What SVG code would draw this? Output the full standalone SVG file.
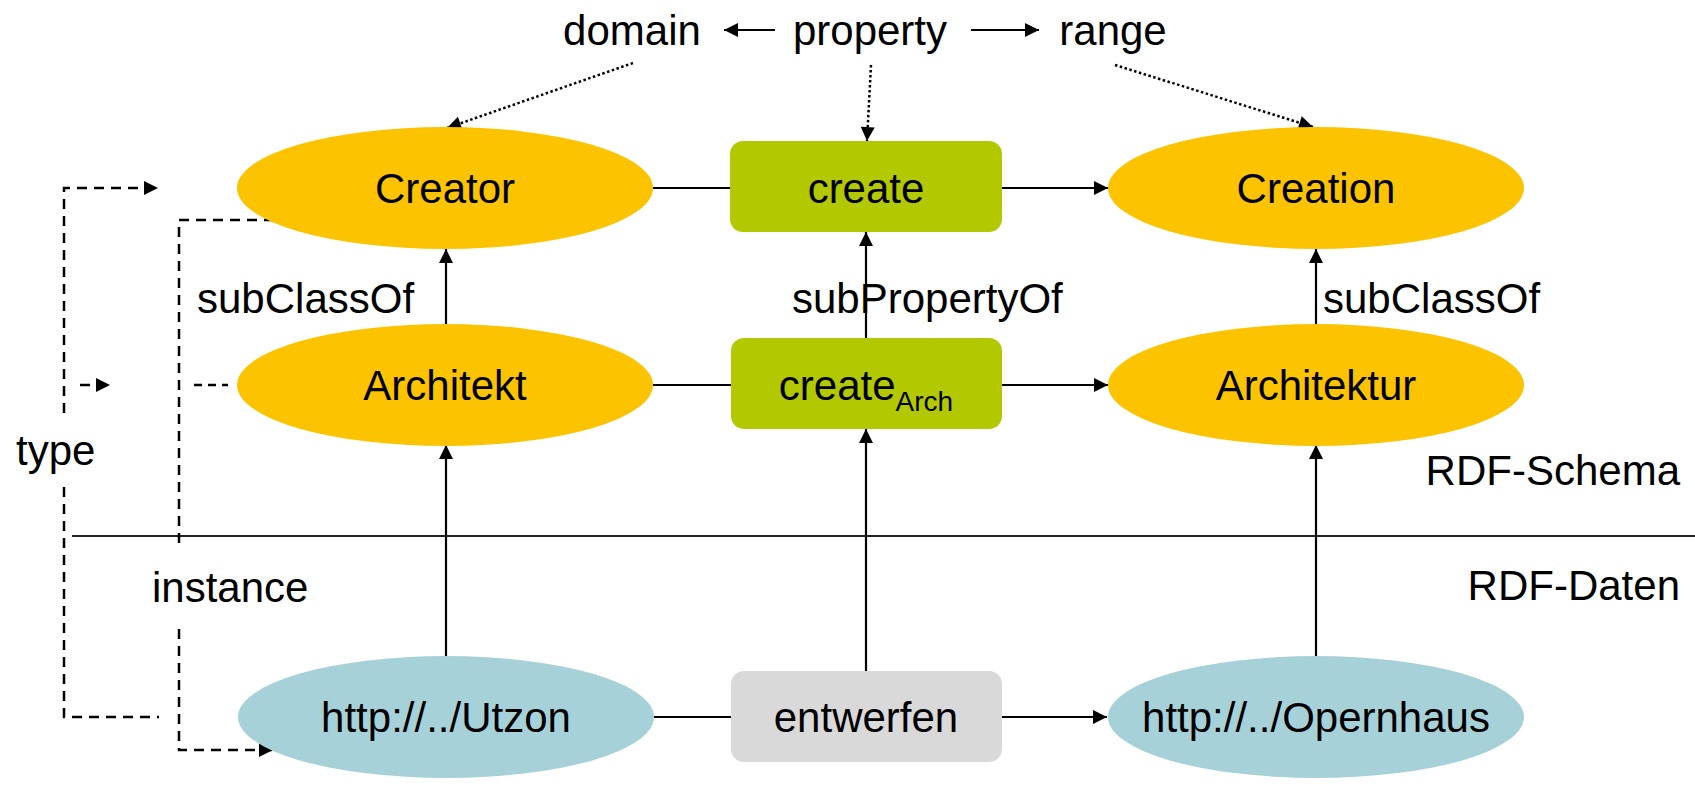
<svg xmlns="http://www.w3.org/2000/svg" width="1695" height="806" viewBox="0 0 1695 806">
<style>
text{font-family:"Liberation Sans",Arial,sans-serif;font-size:42px;fill:#000}
.c{text-anchor:middle}
.cls{fill:#FCC300}
.prop{fill:#B2C800}
.inst{fill:#A7D1D8}
.lit{fill:#D9D9D9}
.ln{stroke:#000;stroke-width:2.2;fill:none}
.dash{stroke:#000;stroke-width:2.5;fill:none;stroke-dasharray:10 7}
.dot{stroke:#000;stroke-width:2.5;fill:none;stroke-dasharray:2.5 2.5}
</style>
<defs>
<marker id="ah" viewBox="0 0 10 10" refX="10" refY="5" markerUnits="userSpaceOnUse" markerWidth="15" markerHeight="14" orient="auto">
<path d="M0,0 L10,5 L0,10 z" fill="#000"/>
</marker>
</defs>

<g id="connectors">
<!-- top legend arrows -->
<line class="ln" x1="775" y1="30" x2="724" y2="30" marker-end="url(#ah)"/>
<line class="ln" x1="971" y1="30" x2="1039" y2="30" marker-end="url(#ah)"/>
<!-- dotted meta arrows -->
<line class="dot" x1="633" y1="63" x2="447" y2="128" marker-end="url(#ah)"/>
<line class="dot" x1="871" y1="65" x2="867" y2="141" marker-end="url(#ah)"/>
<line class="dot" x1="1115" y1="65" x2="1313" y2="127" marker-end="url(#ah)"/>
<!-- horizontal rows -->
<line class="ln" x1="653" y1="188" x2="730" y2="188"/>
<line class="ln" x1="1002" y1="188" x2="1108" y2="188" marker-end="url(#ah)"/>
<line class="ln" x1="653" y1="385" x2="731" y2="385"/>
<line class="ln" x1="1002" y1="385" x2="1108" y2="385" marker-end="url(#ah)"/>
<line class="ln" x1="654" y1="717" x2="731" y2="717"/>
<line class="ln" x1="1002" y1="717" x2="1107" y2="717" marker-end="url(#ah)"/>
<!-- vertical -->
<line class="ln" x1="446" y1="324" x2="446" y2="249" marker-end="url(#ah)"/>
<line class="ln" x1="446" y1="657" x2="446" y2="445" marker-end="url(#ah)"/>
<line class="ln" x1="866" y1="338" x2="866" y2="232" marker-end="url(#ah)"/>
<line class="ln" x1="866" y1="671" x2="866" y2="429" marker-end="url(#ah)"/>
<line class="ln" x1="1316" y1="324" x2="1316" y2="249" marker-end="url(#ah)"/>
<line class="ln" x1="1316" y1="657" x2="1316" y2="445" marker-end="url(#ah)"/>
<!-- separator -->
<line x1="72" y1="536" x2="1695" y2="536" stroke="#222" stroke-width="2"/>
<!-- dashed type / instance -->
<path class="dash" d="M64,413 V188 H158" marker-end="url(#ah)"/>
<path class="dash" d="M64,487 V717 H159"/>
<line class="dash" x1="80" y1="385" x2="110" y2="385" marker-end="url(#ah)"/>
<line class="dash" x1="194" y1="385" x2="228" y2="385" style="stroke-dasharray:8 6"/>
<path class="dash" d="M274,220 H179 V546"/>
<path class="dash" d="M179,629 V750 H273" marker-end="url(#ah)"/>
</g>

<g id="legend">
<text class="c" x="632" y="45">domain</text>
<text class="c" x="870" y="45">property</text>
<text class="c" x="1113" y="45">range</text>
</g>

<g id="creator"><ellipse class="cls" cx="445" cy="188" rx="208" ry="61"/><text class="c" x="445" y="203">Creator</text></g>
<g id="create"><rect class="prop" x="730" y="141" width="272" height="91" rx="13"/><text class="c" x="866" y="203">create</text></g>
<g id="creation"><ellipse class="cls" cx="1316" cy="188" rx="208" ry="61"/><text class="c" x="1316" y="203">Creation</text></g>

<g id="architekt"><ellipse class="cls" cx="445" cy="385" rx="208" ry="61"/><text class="c" x="445" y="400">Architekt</text></g>
<g id="createArch"><rect class="prop" x="731" y="338" width="271" height="91" rx="13"/><text class="c" x="866" y="400">create<tspan dy="11" font-size="28">Arch</tspan></text></g>
<g id="architektur"><ellipse class="cls" cx="1316" cy="385" rx="208" ry="61"/><text class="c" x="1316" y="400">Architektur</text></g>

<g id="utzon"><ellipse class="inst" cx="446" cy="717" rx="208" ry="61"/><text class="c" x="446" y="732">http://../Utzon</text></g>
<g id="entwerfen"><rect class="lit" x="731" y="671" width="271" height="91" rx="13"/><text class="c" x="866" y="732">entwerfen</text></g>
<g id="opernhaus"><ellipse class="inst" cx="1316" cy="717" rx="208" ry="61"/><text class="c" x="1316" y="732">http://../Opernhaus</text></g>

<g id="labels">
<text x="197" y="313">subClassOf</text>
<text x="792" y="313">subPropertyOf</text>
<text x="1323" y="313">subClassOf</text>
<text x="16" y="465">type</text>
<text x="152" y="602">instance</text>
<text x="1680" y="485" text-anchor="end">RDF-Schema</text>
<text x="1680" y="600" text-anchor="end">RDF-Daten</text>
</g>
</svg>
